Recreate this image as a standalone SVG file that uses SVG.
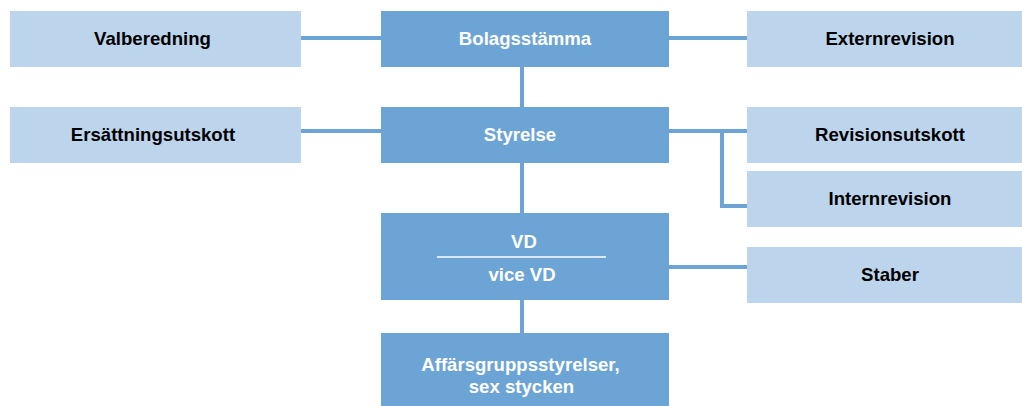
<svg xmlns="http://www.w3.org/2000/svg" width="1022" height="406" viewBox="0 0 1022 406">
<style>
.dark{fill:#6ba4d5}
.light{fill:#bdd5ec}
.tw{font-family:"Liberation Sans",Arial,sans-serif;font-weight:bold;font-size:18.6px;fill:#ffffff;text-anchor:middle}
.tb{font-family:"Liberation Sans",Arial,sans-serif;font-weight:bold;font-size:18.6px;fill:#000000;text-anchor:middle}
.c{stroke:#6ba4d5;stroke-width:4;fill:none}
</style>
<rect width="1022" height="406" fill="#ffffff"/>
<g id="connectors">
<line class="c" x1="301" y1="38" x2="381" y2="38"/>
<line class="c" x1="669" y1="38" x2="747" y2="38"/>
<line class="c" x1="301" y1="131" x2="381" y2="131"/>
<line class="c" x1="669" y1="131" x2="747" y2="131"/>
<polyline class="c" points="722,131 722,206 747,206"/>
<line class="c" x1="669" y1="267" x2="747" y2="267"/>
<line class="c" x1="522" y1="67" x2="522" y2="107"/>
<line class="c" x1="522" y1="163" x2="522" y2="213"/>
<line class="c" x1="522" y1="300" x2="522" y2="333"/>
</g>
<g id="valberedning"><rect class="light" x="10" y="11" width="291" height="56"/><text class="tb" x="152.5" y="45">Valberedning</text></g>
<g id="bolagsstamma"><rect class="dark" x="381" y="11" width="288" height="56"/><text class="tw" x="525" y="45">Bolagsstämma</text></g>
<g id="externrevision"><rect class="light" x="747" y="11" width="275" height="56"/><text class="tb" x="890" y="45">Externrevision</text></g>
<g id="ersattningsutskott"><rect class="light" x="10" y="107" width="291" height="56"/><text class="tb" x="153" y="141">Ersättningsutskott</text></g>
<g id="styrelse"><rect class="dark" x="381" y="107" width="288" height="56"/><text class="tw" x="520" y="141">Styrelse</text></g>
<g id="revisionsutskott"><rect class="light" x="747" y="107" width="275" height="56"/><text class="tb" x="890" y="141">Revisionsutskott</text></g>
<g id="internrevision"><rect class="light" x="747" y="171" width="275" height="56"/><text class="tb" x="890" y="205">Internrevision</text></g>
<g id="vd"><rect class="dark" x="381" y="213" width="288" height="87"/><text class="tw" x="524" y="248">VD</text><line x1="437" y1="257" x2="606" y2="257" stroke="#ffffff" stroke-width="1.5"/><text class="tw" x="522" y="281">vice VD</text></g>
<g id="staber"><rect class="light" x="747" y="247" width="275" height="56"/><text class="tb" x="890" y="281">Staber</text></g>
<g id="affarsgrupp"><rect class="dark" x="381" y="333" width="288" height="73"/><text class="tw" x="520.5" y="371">Affärsgruppsstyrelser,</text><text class="tw" x="521.5" y="393">sex stycken</text></g>
</svg>
